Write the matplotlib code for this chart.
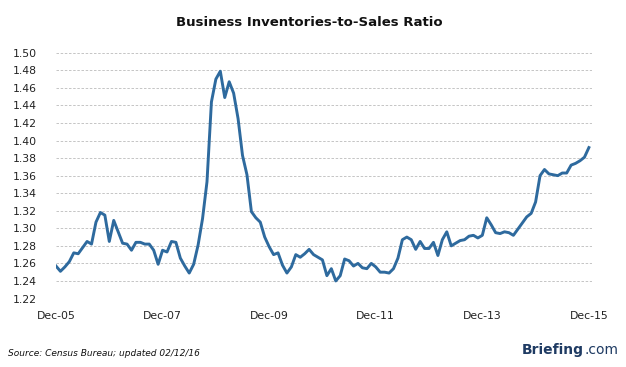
import matplotlib

matplotlib.use('Agg')
import matplotlib.pyplot as plt

# Ratio mensual, dic-2005 a dic-2015
ratio = [
    1.257, 1.251, 1.256, 1.262, 1.272, 1.271, 1.278, 1.285, 1.282, 1.307,
    1.318, 1.315, 1.285, 1.309, 1.296, 1.283, 1.282, 1.275, 1.284, 1.284,
    1.282, 1.282, 1.275, 1.259, 1.275, 1.273, 1.285, 1.284, 1.266, 1.257,
    1.249, 1.259, 1.281, 1.311, 1.353, 1.444, 1.470, 1.479, 1.449, 1.467,
    1.454, 1.425, 1.383, 1.361, 1.319, 1.312, 1.307, 1.290, 1.279, 1.270,
    1.272, 1.258, 1.249, 1.256, 1.270, 1.267, 1.271, 1.276, 1.270, 1.267,
    1.264, 1.246, 1.254, 1.240, 1.246, 1.265, 1.263, 1.257, 1.260, 1.255,
    1.254, 1.260, 1.256, 1.250, 1.250, 1.249, 1.254, 1.266, 1.287, 1.290,
    1.287, 1.276, 1.285, 1.277, 1.277, 1.284, 1.269, 1.287, 1.296, 1.280,
    1.283, 1.286, 1.287, 1.291, 1.292, 1.289, 1.292, 1.312, 1.304, 1.295,
    1.294, 1.296, 1.295, 1.292, 1.299, 1.306, 1.313, 1.317, 1.330, 1.360,
    1.367, 1.362, 1.361, 1.360, 1.363, 1.363, 1.372, 1.374, 1.377, 1.381,
    1.392,
]
meses = list(range(len(ratio)))

etiquetas_x = ["Dec-05", "Dec-07", "Dec-09", "Dec-11", "Dec-13", "Dec-15"]
posiciones_x = [0, 24, 48, 72, 96, 120]
ticks_y = [1.22 + 0.02 * k for k in range(15)]

fig = plt.figure(figsize=(6.26, 3.67), dpi=100)
ax = fig.add_axes([56 / 626, 1 - 298.5 / 367, (592 - 56) / 626, (298.5 - 52.8) / 367])

ax.plot(meses, ratio, color="#2e6a9e", linewidth=2.1, solid_joinstyle="round")

ax.set_xlim(0, 120.7)
ax.set_ylim(1.22, 1.50)
ax.set_yticks(ticks_y)
ax.set_yticklabels([f"{v:.2f}" for v in ticks_y], fontsize=7.8, color="#222222")
ax.set_xticks(posiciones_x)
ax.set_xticklabels(etiquetas_x, fontsize=7.8, color="#222222")
ax.tick_params(axis="both", length=0)
ax.tick_params(axis="y", pad=14)
ax.tick_params(axis="x", pad=9)

ax.grid(axis="y", color="#bcbcbc", linestyle=(0, (3, 2)), linewidth=0.6)
ax.set_axisbelow(True)
for lado in ax.spines.values():
    lado.set_visible(False)

fig.text(309 / 626, 1 - 22 / 367, "Business Inventories-to-Sales Ratio",
         ha="center", va="center", fontsize=9.5, fontweight="bold", color="#111111")
fig.text(8 / 626, 1 - 353 / 367, "Source: Census Bureau; updated 02/12/16",
         ha="left", va="center", fontsize=6.5, style="italic", color="#111111")

t1 = fig.text(522 / 626, 1 - 350 / 367, "Briefing", ha="left", va="center",
              fontsize=10, fontweight="bold", color="#1f3b63")
fig.canvas.draw()
bb = t1.get_window_extent()
fig.text(bb.x1 / fig.bbox.width, 1 - 350 / 367, ".com", ha="left", va="center",
         fontsize=10, color="#1f3b63")

fig.savefig("out.png", dpi=100)
plt.close(fig)
